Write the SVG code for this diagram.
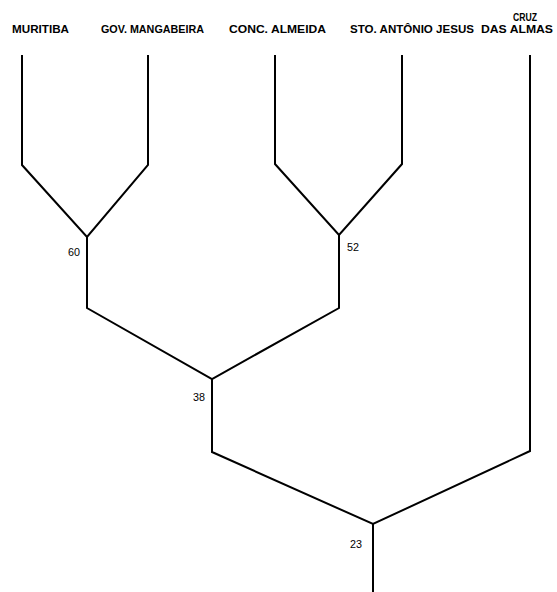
<svg xmlns="http://www.w3.org/2000/svg" width="557" height="592" viewBox="0 0 557 592">
<style>
.lbl{font-family:"Liberation Sans",Arial,sans-serif;font-size:10px;font-weight:bold;fill:#000}
.num{font-family:"Liberation Sans",Arial,sans-serif;font-size:11px;fill:#000}
.ln{fill:none;stroke:#000;stroke-width:2;stroke-linejoin:miter}
</style>
<rect width="557" height="592" fill="#fff"/>
<g id="leaf-muritiba"><text class="lbl" x="12" y="33" textLength="57" lengthAdjust="spacingAndGlyphs">MURITIBA</text></g>
<g id="leaf-gov-mangabeira"><text class="lbl" x="101" y="33" textLength="103" lengthAdjust="spacingAndGlyphs">GOV. MANGABEIRA</text></g>
<g id="leaf-conc-almeida"><text class="lbl" x="229" y="33" textLength="97" lengthAdjust="spacingAndGlyphs">CONC. ALMEIDA</text></g>
<g id="leaf-sto-antonio-jesus"><text class="lbl" x="350" y="33" textLength="124" lengthAdjust="spacingAndGlyphs">STO. ANTÔNIO JESUS</text></g>
<g id="leaf-cruz-das-almas"><text class="lbl" x="513" y="21" textLength="24" lengthAdjust="spacingAndGlyphs">CRUZ</text><text class="lbl" x="481" y="33" textLength="72" lengthAdjust="spacingAndGlyphs">DAS ALMAS</text></g>
<g id="node-60"><text class="num" x="68" y="256" textLength="12" lengthAdjust="spacingAndGlyphs">60</text></g>
<g id="node-52"><text class="num" x="347" y="251" textLength="12" lengthAdjust="spacingAndGlyphs">52</text></g>
<g id="node-38"><text class="num" x="193" y="401" textLength="12" lengthAdjust="spacingAndGlyphs">38</text></g>
<g id="node-23"><text class="num" x="350" y="548" textLength="12" lengthAdjust="spacingAndGlyphs">23</text></g>
<g id="connectors">
<polyline class="ln" points="22,55 22,165 87,237 148,165 148,55"/>
<polyline class="ln" points="87,237 87,308 212,379 339,308 339,235"/>
<polyline class="ln" points="275,55 275,164 339,235 402,164 402,55"/>
<polyline class="ln" points="212,379 212,452 373,524 530,451 530,55"/>
<polyline class="ln" points="373,524 373,592"/>
</g>
</svg>
